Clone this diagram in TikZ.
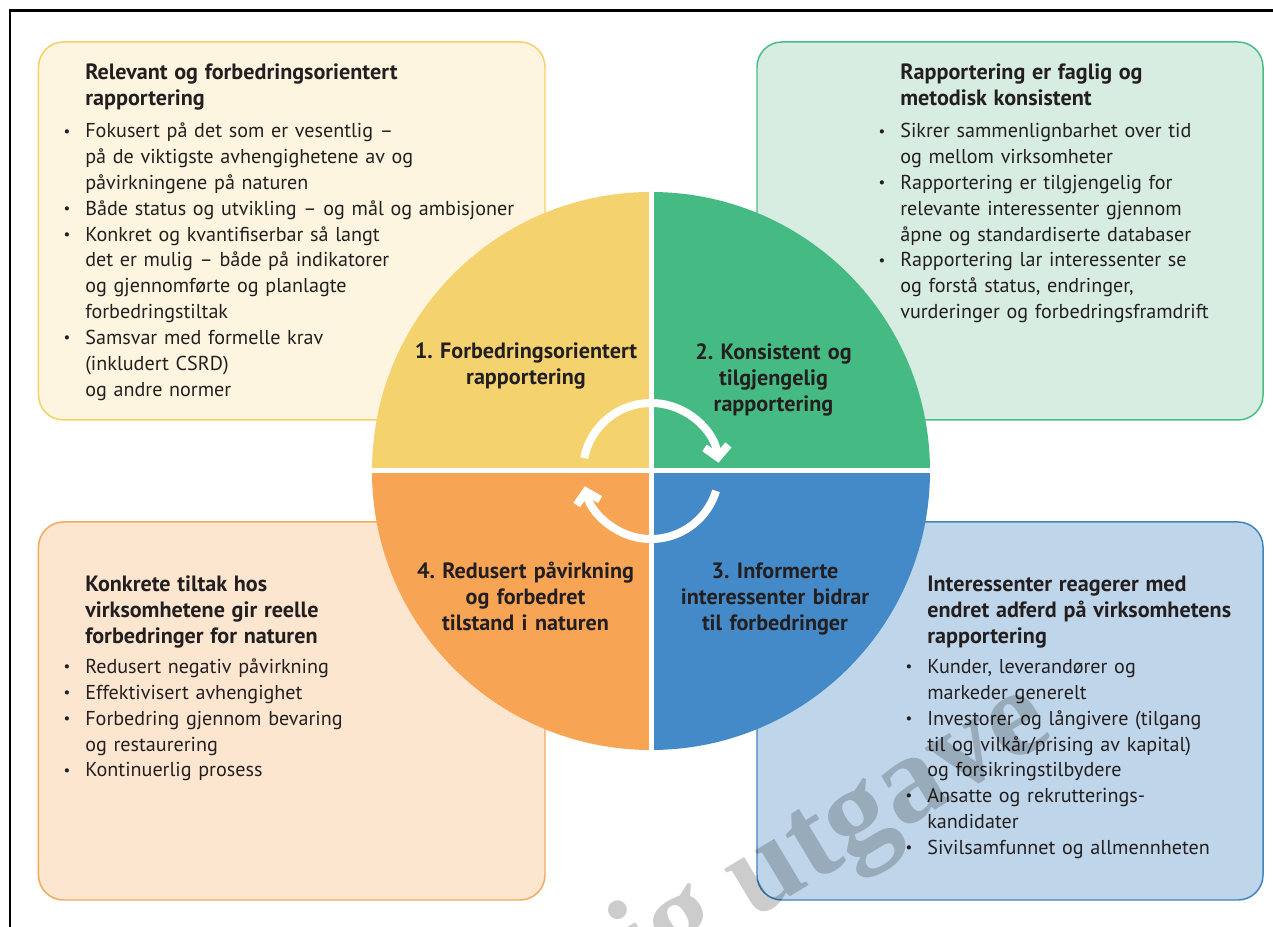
\documentclass[tikz,border=0pt]{standalone}
\usepackage{fontspec}
\setmainfont{PT Sans}
\newfontfamily\wmfont{Liberation Serif}
\usetikzlibrary{arrows.meta}
\definecolor{quadyellow}{HTML}{F4D36F}
\definecolor{quadgreen}{HTML}{45BB83}
\definecolor{quadblue}{HTML}{448AC9}
\definecolor{quadorange}{HTML}{F7A454}
\definecolor{boxyellow}{HTML}{FDF5DF}
\definecolor{lineyellow}{HTML}{F6CF67}
\definecolor{boxgreen}{HTML}{D8EDE1}
\definecolor{linegreen}{HTML}{48BE84}
\definecolor{boxorange}{HTML}{FDE6CF}
\definecolor{lineorange}{HTML}{F6A85C}
\definecolor{boxblue}{HTML}{BFD6EA}
\definecolor{lineblue}{HTML}{3F84C4}
\definecolor{txtdark}{HTML}{231F20}
\frenchspacing
% bold heading and bullet points of the four boxes
\newcommand{\boxtitle}[1]{{\fontsize{12.6pt}{14.7pt}\selectfont\bfseries #1\par}\vspace{3.5pt}}
\newcommand{\itm}{\par\noindent\llap{\raisebox{1pt}{\fontsize{8.5pt}{8pt}\selectfont•}\hspace{0.3cm}}}

\begin{document}
\begin{tikzpicture}[
  infobox/.style={rounded corners=0.5cm, line width=0.85pt},
  boxtext/.style={text width=9.5cm, align=left, inner sep=0pt, text=txtdark,
    font=\fontsize{11.45pt}{14.7pt}\selectfont},
  quadlabel/.style={text width=5.5cm, align=center, inner sep=0pt, text=txtdark,
    font=\fontsize{12.6pt}{14.7pt}\selectfont\bfseries},
  cycle/.style={white, line width=0.16cm, -{Straight Barb[length=0.22cm, width=0.48cm]}}
]
\useasboundingbox (-13.02,-9.12) rectangle (12.44,9.42);

% page frame
\draw[line width=0.055cm] (-12.82,-9.12) -- (-12.82,9.206) -- (12.44,9.206);

% four boxes
\draw[infobox, fill=boxyellow, draw=lineyellow] (-12.25,1.02) rectangle (-2.12,8.58);
\draw[infobox, fill=boxgreen, draw=linegreen] (2.12,1.02) rectangle (12.24,8.58);
\draw[infobox, fill=boxorange, draw=lineorange] (-12.25,-8.58) rectangle (-2.12,-1.02);
\draw[infobox, fill=boxblue, draw=lineblue] (2.12,-8.58) rectangle (12.24,-1.02);

% circle in four parts
\fill[quadyellow] (0,0) -- (180:5.58) arc[start angle=180, end angle=90, radius=5.58] -- cycle;
\fill[quadgreen] (0,0) -- (90:5.58) arc[start angle=90, end angle=0, radius=5.58] -- cycle;
\fill[quadblue] (0,0) -- (0:5.58) arc[start angle=0, end angle=-90, radius=5.58] -- cycle;
\fill[quadorange] (0,0) -- (-90:5.58) arc[start angle=-90, end angle=-180, radius=5.58] -- cycle;
\draw[white, line width=0.1cm] (-5.58,0) -- (5.58,0);
\draw[white, line width=0.1cm] (0,-5.58) -- (0,5.58);

% cycle arrows
\draw[cycle] (169:1.36) arc[start angle=169, end angle=7, radius=1.36];
\draw[cycle] (-17:1.36) arc[start angle=-17, end angle=-167, radius=1.36];

% labels in the circle
\node[quadlabel, anchor=base] (q1) at (-2.5,2.24) {1. Forbedringsorientert\\rapportering};
\node[quadlabel, anchor=base] (q2) at (2.45,2.22) {2. Konsistent og\\tilgjengelig\\rapportering};
\node[quadlabel, anchor=base] (q3) at (2.48,-2.16) {3. Informerte\\interessenter bidrar\\til forbedringer};
\node[quadlabel, anchor=base] (q4) at (-2.51,-2.16) {4. Redusert påvirkning\\og forbedret\\tilstand i naturen};

% box texts
\node[boxtext, anchor=base west] (t1) at (-11.32,7.82) {\boxtitle{Relevant og forbedringsorientert\\rapportering}
\itm Fokusert på det som er vesentlig –\\på de viktigste avhengighetene av og\\påvirkningene på naturen
\itm Både status og utvikling – og mål og ambisjoner
\itm Konkret og kvantifiserbar så langt\\det er mulig – både på indikatorer\\og gjennomførte og planlagte\\forbedringstiltak
\itm Samsvar med formelle krav\\(inkludert CSRD)\\og andre normer};

\node[boxtext, anchor=base west] (t2) at (4.98,7.82) {\boxtitle{Rapportering er faglig og\\metodisk konsistent}
\itm Sikrer sammenlignbarhet over tid\\og mellom virksomheter
\itm Rapportering er tilgjengelig for\\relevante interessenter gjennom\\åpne og standardiserte databaser
\itm Rapportering lar interessenter se\\og forstå status, endringer,\\vurderinger og forbedringsframdrift};

\node[boxtext, anchor=base west] (t4) at (-11.32,-2.42) {\boxtitle{Konkrete tiltak hos\\virksomhetene gir reelle\\forbedringer for naturen}\vspace{-1.2pt}
\itm Redusert negativ påvirkning
\itm Effektivisert avhengighet
\itm Forbedring gjennom bevaring\\og restaurering
\itm Kontinuerlig prosess};

\node[boxtext, anchor=base west] (t3) at (5.52,-2.42) {\boxtitle{Interessenter reagerer med\\endret adferd på virksomhetens\\rapportering}\vspace{-1.2pt}
\itm Kunder, leverandører og\\markeder generelt
\itm Investorer og långivere (tilgang\\til og vilkår/prising av kapital)\\og forsikringstilbydere
\itm Ansatte og rekrutterings-\\kandidater
\itm Sivilsamfunnet og allmennheten};

% watermark
\begin{scope}
\clip (-13.02,-9.12) rectangle (12.44,9.42);
\node[anchor=center, rotate=31, text=black, text opacity=0.2, inner sep=0pt,
  font=\wmfont\bfseries\fontsize{71pt}{71pt}\selectfont] (wm) at (3.66,-7.30) {ig utgave};
\end{scope}
\end{tikzpicture}
\end{document}
